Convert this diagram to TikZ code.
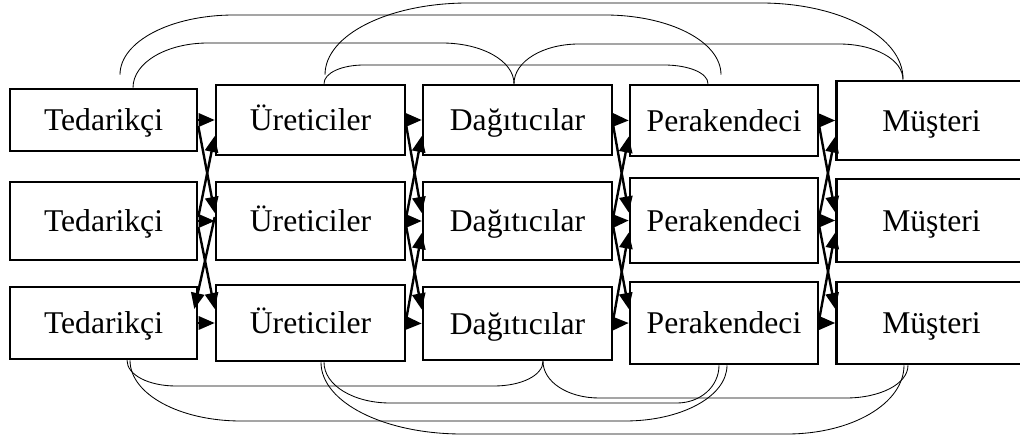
\documentclass[tikz,border=0pt]{standalone}
\usepackage{fontspec}
\setmainfont{Liberation Serif}
\usetikzlibrary{calc,arrows.meta}

\begin{document}
\begin{tikzpicture}[x=0.25mm,y=-0.25mm,
        kutu/.style={draw,line width=1.8pt,inner sep=0pt,text height=15pt,text depth=0pt,
            font=\fontsize{22.5}{26}\selectfont},
        ok/.style={line width=1.7pt,-{Triangle[length=4mm,width=3.3mm]}},
        yay/.style={line width=0.6pt}]
        \useasboundingbox (0,0) rectangle (1020,441);

        \node[kutu,minimum width=46.75mm,minimum height=15.5mm] (ted1) at (103.5,120) {Tedarikçi};
        \node[kutu,minimum width=46.75mm,minimum height=19.5mm] (ted2) at (103.5,221) {Tedarikçi};
        \node[kutu,minimum width=46.75mm,minimum height=18mm] (ted3) at (103.5,323) {Tedarikçi};
        \node[kutu,minimum width=47.25mm,minimum height=17.5mm] (ure1) at (310.5,120) {Üreticiler};
        \node[kutu,minimum width=47.25mm,minimum height=19.5mm] (ure2) at (310.5,221) {Üreticiler};
        \node[kutu,minimum width=47.25mm,minimum height=19mm] (ure3) at (310.5,323) {Üreticiler};
        \node[kutu,minimum width=47.25mm,minimum height=17.5mm] (dag1) at (517.5,120) {Dağıtıcılar};
        \node[kutu,minimum width=47.25mm,minimum height=19.5mm] (dag2) at (517.5,221) {Dağıtıcılar};
        \node[kutu,minimum width=47.25mm,minimum height=18.25mm] (dag3) at (517.5,323.5) {Dağıtıcılar};
        \node[kutu,minimum width=47mm,minimum height=17.75mm] (per1) at (724,120.5) {Perakendeci};
        \node[kutu,minimum width=47mm,minimum height=21.25mm] (per2) at (724,220.5) {Perakendeci};
        \node[kutu,minimum width=47mm,minimum height=20.5mm] (per3) at (724,323) {Perakendeci};
        \node[kutu,minimum width=47.5mm,minimum height=19.75mm] (mus1) at (931.5,120.5) {Müşteri};
        \node[kutu,minimum width=47.5mm,minimum height=20.75mm] (mus2) at (931.5,220.5) {Müşteri};
        \node[kutu,minimum width=47.5mm,minimum height=20.5mm] (mus3) at (931.5,323) {Müşteri};

        % tedarikci -> ureticiler
        \draw[ok] (ted1.east) -- (ure1.west);
        \draw[ok] (ted2.east) -- (ure2.west);
        \draw[ok] (ted3.east) -- (ure3.west);
        \draw[ok] ([yshift=1mm]ted2.east) -- ([yshift=-4mm]ure1.west);
        \draw[ok] ([yshift=-1.5mm]ted1.east) -- ([yshift=2mm]ure2.west);
        \draw[ok] ([yshift=-1.5mm]ted2.east) -- ([yshift=3.5mm]ure3.west);
        \draw[ok] ([yshift=1mm]ure2.west) -- ([xshift=-1mm,yshift=3.5mm]ted3.east);

        % ureticiler -> dagiticilar
        \draw[ok] (ure1.east) -- (dag1.west);
        \draw[ok] (ure2.east) -- (dag2.west);
        \draw[ok] (ure3.east) -- (dag3.west);
        \draw[ok] ([yshift=1mm]ure2.east) -- ([yshift=-4mm]dag1.west);
        \draw[ok] ([yshift=-1.5mm]ure1.east) -- ([yshift=2mm]dag2.west);
        \draw[ok] ([yshift=1mm]ure3.east) -- ([yshift=-3mm]dag2.west);
        \draw[ok] ([yshift=-1.5mm]ure2.east) -- ([yshift=3.5mm]dag3.west);

        % dagiticilar -> perakendeci
        \draw[ok] (dag1.east) -- (per1.west);
        \draw[ok] (dag2.east) -- (per2.west);
        \draw[ok] (dag3.east) -- (per3.west);
        \draw[ok] ([yshift=1mm]dag2.east) -- ([yshift=-4mm]per1.west);
        \draw[ok] ([yshift=-1.5mm]dag1.east) -- ([yshift=2mm]per2.west);
        \draw[ok] ([yshift=1mm]dag3.east) -- ([yshift=-3mm]per2.west);
        \draw[ok] ([yshift=-1.5mm]dag2.east) -- ([yshift=3.5mm]per3.west);

        % perakendeci -> musteri
        \draw[ok] (per1.east) -- (mus1.west);
        \draw[ok] (per2.east) -- (mus2.west);
        \draw[ok] (per3.east) -- (mus3.west);
        \draw[ok] ([yshift=1mm]per2.east) -- ([yshift=-4mm]mus1.west);
        \draw[ok] ([yshift=-1.5mm]per1.east) -- ([yshift=2mm]mus2.west);
        \draw[ok] ([yshift=1mm]per3.east) -- ([yshift=-3mm]mus2.west);
        \draw[ok] ([yshift=-1.5mm]per2.east) -- ([yshift=3.5mm]mus3.west);

        % ust yaylar
        \draw[yay] ($(ted1.north)+(16.5,-13)$) .. controls +(0,-33.5) and +(-62.7,0) .. (234,15)
            -- (605,15) .. controls +(63.8,0) and +(0,-33.5) .. ($(per1.north)+(-3,-9)$);
        \draw[yay] ($(ted1.north)+(29.5,0)$) .. controls +(0,-25.3) and +(-41.3,0) .. (208,43)
            -- (442,43) .. controls +(39.6,0) and +(0,-23.1) .. ($(dag1.north)+(-3.5,0)$);
        \draw[yay] ($(ure1.north)+(14.5,-9)$) .. controls +(0,-40.2) and +(-78.7,0) .. (468,3)
            -- (761,3) .. controls +(78.1,0) and +(0,-42.4) .. ($(mus1.north)+(-28.5,-1)$);
        \draw[yay] ($(ure1.north)+(13.5,0)$) .. controls +(0,-11) and +(-22,0) .. (364,65)
            -- (664,65) .. controls +(24.2,0) and +(0,-11) .. ($(per1.north)+(-16,0)$);
        \draw[yay] ($(dag1.north)+(-3.5,0)$) .. controls +(0,-22.6) and +(-35.8,0) .. (579,44)
            -- (839,44) .. controls +(35.2,0) and +(0,-20.4) .. ($(mus1.north)+(-28.5,0)$);

        % alt yaylar
        \draw[yay] ($(ted3.south)+(23.5,0)$) .. controls +(0,14.9) and +(-27,0) .. (176,386)
            -- (494,386) .. controls +(27,0) and +(0,14.3) .. ($(dag3.south)+(25.5,0)$);
        \draw[yay] ($(ted3.south)+(26.5,0)$) .. controls +(0,34.1) and +(-61,0) .. (241,421)
            -- (625,421) .. controls +(56.1,0) and +(0,31.4) .. ($(per3.south)+(3,0)$);
        \draw[yay] ($(ure3.south)+(13.5,0)$) .. controls +(0,23.1) and +(-36.3,0) .. (390,403)
            -- (677,403) .. controls +(23.1,0) and +(0,21.5) .. ($(per3.south)+(-5,0)$);
        \draw[yay] ($(dag3.south)+(25.5,0)$) .. controls +(0,20.9) and +(-30.8,0) .. (599,398)
            -- (846,398) .. controls +(34.1,0) and +(0,18.7) .. ($(mus3.south)+(-23.5,0)$);
        \draw[yay] ($(ure3.south)+(10.5,0)$) .. controls +(0,40.2) and +(-77.6,0) .. (462,434)
            -- (787,434) .. controls +(64.4,0) and +(0,38.5) .. ($(mus3.south)+(-27.5,0)$);
    \end{tikzpicture}
\end{document}
